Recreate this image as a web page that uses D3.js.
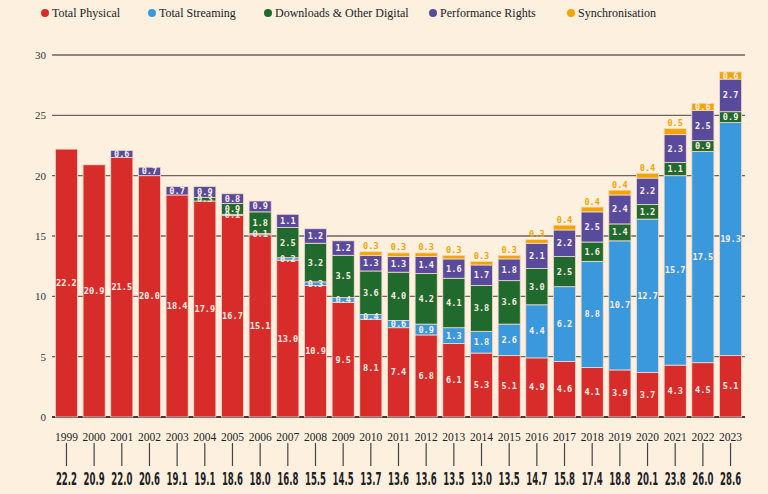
<!DOCTYPE html>
<html>
<head>
<meta charset="utf-8">
<script src="https://cdn.jsdelivr.net/npm/d3@7"></script>
<style>
  html, body { margin: 0; padding: 0; background: #fdf0df; }
  svg { display: block; }
</style>
</head>
<body>
<svg id="chart" width="768" height="494"></svg>
<script>
const years = ["1999","2000","2001","2002","2003","2004","2005","2006","2007","2008","2009","2010","2011","2012","2013","2014","2015","2016","2017","2018","2019","2020","2021","2022","2023"];
const physical = [22.2,20.9,21.5,20.0,18.4,17.9,16.7,15.1,13.0,10.9,9.5,8.1,7.4,6.8,6.1,5.3,5.1,4.9,4.6,4.1,3.9,3.7,4.3,4.5,5.1];
const streaming = [0,0,0,0,0,0,0.1,0.1,0.2,0.3,0.4,0.4,0.6,0.9,1.3,1.8,2.6,4.4,6.2,8.8,10.7,12.7,15.7,17.5,19.3];
const downloads = [0,0,0,0,0,0.3,0.9,1.8,2.5,3.2,3.5,3.6,4.0,4.2,4.1,3.8,3.6,3.0,2.5,1.6,1.4,1.2,1.1,0.9,0.9];
const performance = [0,0,0.6,0.7,0.7,0.9,0.8,0.9,1.1,1.2,1.2,1.3,1.3,1.4,1.6,1.7,1.8,2.1,2.2,2.5,2.4,2.2,2.3,2.5,2.7];
const sync = [0,0,0,0,0,0,0,0,0,0,0,0.3,0.3,0.3,0.3,0.3,0.3,0.3,0.4,0.4,0.4,0.4,0.5,0.6,0.6];
const totals = ["22.2","20.9","22.0","20.6","19.1","19.1","18.6","18.0","16.8","15.5","14.5","13.7","13.6","13.6","13.5","13.0","13.5","14.7","15.8","17.4","18.8","20.1","23.8","26.0","28.6"];
const yTicks = [0,5,10,15,20,25,30];

const seriesNames = ["Total Physical","Total Streaming","Downloads & Other Digital","Performance Rights","Synchronisation"];
const seriesColors = ["#d82c2a","#3a99dc","#1f6a2c","#584b9c","#f2a500"];
const seriesData = [physical, streaming, downloads, performance, sync];

const svg = d3.select("#chart");
const serif = "'Liberation Serif', 'DejaVu Serif', serif";
const mono = "'DejaVu Sans Mono', monospace";

const x = d3.scaleBand().domain(years).range([54, 743]).paddingInner(0.2).paddingOuter(0.05);
const y = d3.scaleLinear().domain([0, 30]).range([417, 55]);

// gridlines
svg.append("g").selectAll("line").data(yTicks).join("line")
  .attr("x1", 52).attr("x2", 745)
  .attr("y1", d => y(d)).attr("y2", d => y(d))
  .attr("stroke", d => d === 0 ? "#3a3a3a" : "#6b6560")
  .attr("stroke-width", d => d === 0 ? 2 : 1.4);

// y axis labels
const yAxis = d3.axisLeft(y).tickValues(yTicks).tickSize(0).tickPadding(0);
const yg = svg.append("g").attr("transform", "translate(46,0)").call(yAxis);
yg.select(".domain").remove();
yg.selectAll("text")
  .attr("font-family", serif).attr("font-size", 11).attr("fill", "#333")
  .style("font-variant-numeric", "oldstyle-nums");

// stacked data
const rows = years.map((yr, i) => ({ year: yr, values: seriesData.map(s => s[i]) }));

const segs = [];
rows.forEach(r => {
  let base = 0;
  r.values.forEach((v, k) => {
    if (v > 0) segs.push({ year: r.year, k, v, y0: base, y1: base + v });
    base += v;
  });
});

svg.append("g").selectAll("rect").data(segs).join("rect")
  .attr("x", d => x(d.year))
  .attr("width", x.bandwidth())
  .attr("y", d => y(d.y1))
  .attr("height", d => y(d.y0) - y(d.y1))
  .attr("fill", d => seriesColors[d.k])
  .attr("stroke", "#f6d9cc")
  .attr("stroke-width", 0.8);

// segment labels
svg.append("g").selectAll("text").data(segs).join("text")
  .attr("x", d => x(d.year) + x.bandwidth() / 2)
  .attr("y", d => (d.k === 4 && d.v < 0.6) ? y(d.y1) - 5.5 : y((d.y0 + d.y1) / 2))
  .attr("text-anchor", "middle")
  .attr("dominant-baseline", "central")
  .attr("font-family", mono)
  .attr("font-weight", "bold")
  .attr("font-size", 8.6)
  .attr("fill", d => (d.k === 4 && d.v < 0.6) ? "#f2a500" : "#fbece4")
  .text(d => d.v.toFixed(1));

// year labels
svg.append("g").selectAll("text").data(years).join("text")
  .attr("x", d => x(d) + x.bandwidth() / 2)
  .attr("y", 437)
  .attr("text-anchor", "middle")
  .attr("dominant-baseline", "central")
  .attr("font-family", serif)
  .attr("font-size", 11.5)
  .attr("fill", "#222")
  .style("font-variant-numeric", "oldstyle-nums")
  .text(d => d);

// tick connectors
svg.append("g").selectAll("line").data(years).join("line")
  .attr("x1", d => x(d) + x.bandwidth() / 2)
  .attr("x2", d => x(d) + x.bandwidth() / 2)
  .attr("y1", 443).attr("y2", 466)
  .attr("stroke", "#444").attr("stroke-width", 1.2);

// totals
svg.append("g").selectAll("text").data(years).join("text")
  .attr("transform", d => `translate(${x(d) + x.bandwidth() / 2},485) scale(0.56,1)`)
  .attr("text-anchor", "middle")
  .attr("font-family", "'DejaVu Sans Condensed', 'Liberation Sans Narrow', sans-serif")
  .attr("font-weight", "bold")
  .attr("font-size", 17)
  .attr("fill", "#1e1e24")
  .text((d, i) => totals[i]);

// legend
const legendX = [45, 152, 268, 433, 571];
const lg = svg.append("g").selectAll("g").data(seriesNames).join("g")
  .attr("transform", (d, i) => `translate(${legendX[i]},13)`);
lg.append("circle").attr("r", 4).attr("fill", (d, i) => seriesColors[i]);
lg.append("text").attr("x", 7).attr("dominant-baseline", "central")
  .attr("font-family", serif).attr("font-size", 12).attr("fill", "#222")
  .text(d => d);
</script>
</body>
</html>
